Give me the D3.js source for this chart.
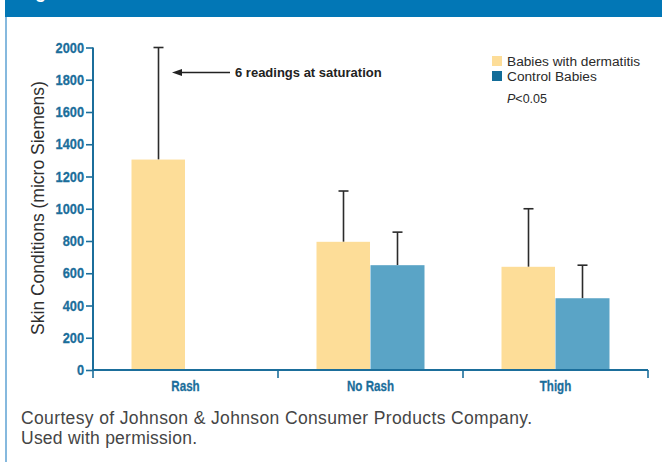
<!DOCTYPE html>
<html>
<head>
<meta charset="utf-8">
<script src="https://cdn.jsdelivr.net/npm/d3@7"></script>
<style>
  html, body { margin: 0; padding: 0; background: #fff; }
  svg { display: block; }
</style>
</head>
<body>
<svg id="chart" width="662" height="462"></svg>
<script>
// Skin conductance by site, babies with dermatitis vs. control babies
const categories = ["Rash", "No Rash", "Thigh"];
const seriesNames = ["Babies with dermatitis", "Control Babies"];
const dermatitisMean = [1305, 795, 640];
const dermatitisErr = [695, 315, 360];
const controlMean = [null, 650, 445];
const controlErr = [null, 205, 205];
const yTicks = [0, 200, 400, 600, 800, 1000, 1200, 1400, 1600, 1800, 2000];

const barFill = ["#fddd98", "#5aa4c6"];
const legendFill = ["#fddd98", "#126c98"];
const axisColor = "#1b6e9b";
const sans = "'Liberation Sans', Arial, Helvetica, sans-serif";

const svg = d3.select("#chart");

// Squeeze a text horizontally to mimic a condensed face
function condense(sel, k) {
  sel.each(function () {
    const w = this.getComputedTextLength();
    d3.select(this).attr("textLength", w * k).attr("lengthAdjust", "spacingAndGlyphs");
  });
}

// Frame: header band and left rule
svg.append("rect").attr("x", 5).attr("y", 0).attr("width", 657).attr("height", 17).attr("fill", "#0277b6");
svg.append("text").attr("x", 19).attr("y", -2).attr("fill", "#fff")
  .attr("font-family", sans).attr("font-weight", "bold").attr("font-size", 18).text("Figure 1");
svg.append("line").attr("x1", 6).attr("x2", 6).attr("y1", 17).attr("y2", 462)
  .attr("stroke", "#86b9de").attr("stroke-width", 2);

// Scales
const x0 = d3.scaleBand().domain(categories).range([93, 648]).padding(0);
const groupWidth = 108;
const x1 = d3.scaleBand().domain(seriesNames).range([0, groupWidth]).padding(0);
const y = d3.scaleLinear().domain([0, 2000]).range([370, 47.5]);

const rows = [];
categories.forEach((c, i) => {
  [[dermatitisMean, dermatitisErr], [controlMean, controlErr]].forEach(([m, e], s) => {
    if (m[i] != null) rows.push({ cat: c, s, mean: m[i], err: e[i] });
  });
});
const barX = d => x0(d.cat) + x0.bandwidth() / 2 - groupWidth / 2 + x1(seriesNames[d.s]);

// Error bars (drawn under the bars so only the upper whisker shows)
const eb = svg.append("g").attr("stroke", "#2b2b2b").attr("stroke-width", 1.6);
rows.forEach(d => {
  const cx = barX(d) + x1.bandwidth() / 2;
  eb.append("line").attr("x1", cx).attr("x2", cx).attr("y1", y(d.mean)).attr("y2", y(d.mean + d.err));
  eb.append("line").attr("x1", cx - 5).attr("x2", cx + 5).attr("y1", y(d.mean + d.err)).attr("y2", y(d.mean + d.err));
});

// Bars
svg.append("g").selectAll("rect").data(rows).join("rect")
  .attr("x", d => barX(d))
  .attr("width", d => x1.bandwidth() - (d.s === 1 ? 0 : 0.5))
  .attr("y", d => y(d.mean))
  .attr("height", d => y(0) - y(d.mean))
  .attr("fill", d => barFill[d.s]);

// Y axis
const yAxis = svg.append("g").attr("transform", "translate(93,0)")
  .call(d3.axisLeft(y).tickValues(yTicks).tickSize(7).tickPadding(2).tickFormat(d3.format("d")));
yAxis.select(".domain").attr("stroke", axisColor).attr("stroke-width", 2).attr("d", `M0,${y(2000)}V${y(0)}`);
yAxis.selectAll(".tick line").attr("stroke", axisColor).attr("stroke-width", 1.6);
yAxis.selectAll(".tick text").attr("fill", axisColor).attr("font-family", sans)
  .attr("font-weight", "bold").attr("font-size", 14.5).attr("stroke", axisColor).attr("stroke-width", 0.3)
  .call(condense, 0.88);

// X axis
const xAxis = svg.append("g").attr("transform", `translate(0,${y(0)})`)
  .call(d3.axisBottom(x0).tickSize(0).tickPadding(11));
xAxis.select(".domain").attr("stroke", axisColor).attr("stroke-width", 2).attr("d", "M92,0H648");
xAxis.selectAll(".tick text").attr("fill", axisColor).attr("font-family", sans)
  .attr("font-weight", "bold").attr("font-size", 14.5).attr("stroke", axisColor).attr("stroke-width", 0.3)
  .call(condense, 0.8);
const boundaries = [93, ...categories.map(c => x0(c) + x0.bandwidth())];
xAxis.selectAll(".bound").data(boundaries).join("line").attr("class", "bound")
  .attr("x1", d => d).attr("x2", d => d).attr("y1", 0).attr("y2", 8)
  .attr("stroke", axisColor).attr("stroke-width", 1.6);

// Y axis title
svg.append("text").attr("transform", "translate(44,208) rotate(-90)")
  .attr("text-anchor", "middle").attr("font-family", sans).attr("font-size", 17.5)
  .attr("fill", "#2f2f2f").text("Skin Conditions (micro Siemens)");

// Annotation arrow
const ann = svg.append("g");
ann.append("line").attr("x1", 230).attr("x2", 180).attr("y1", 72.5).attr("y2", 72.5)
  .attr("stroke", "#222").attr("stroke-width", 1.6);
ann.append("path").attr("d", "M172,72.5L182,69L182,76Z").attr("fill", "#222");
ann.append("text").attr("x", 235).attr("y", 77).attr("font-family", sans)
  .attr("font-weight", "bold").attr("font-size", 13).attr("fill", "#222")
  .text("6 readings at saturation");

// Legend
const legend = svg.append("g");
seriesNames.forEach((name, i) => {
  legend.append("rect").attr("x", 492).attr("y", 56 + i * 15).attr("width", 10).attr("height", 10)
    .attr("fill", legendFill[i]);
  legend.append("text").attr("x", 507).attr("y", 65.5 + i * 15).attr("font-family", sans)
    .attr("font-size", 13.7).attr("fill", "#2a2a2a").text(name);
});
const pTxt = legend.append("text").attr("x", 507).attr("y", 102.5).attr("font-family", sans)
  .attr("font-size", 12.5).attr("fill", "#2a2a2a");
pTxt.append("tspan").attr("font-style", "italic").text("P");
pTxt.append("tspan").text("<0.05");

// Source note
const note = svg.append("g").attr("font-family", sans).attr("font-size", 17.5).attr("fill", "#454545");
note.append("text").attr("x", 21).attr("y", 423.5).attr("textLength", 511).attr("lengthAdjust", "spacing")
  .text("Courtesy of Johnson & Johnson Consumer Products Company.");
note.append("text").attr("x", 21).attr("y", 443.5).attr("textLength", 176).attr("lengthAdjust", "spacing")
  .text("Used with permission.");
</script>
</body>
</html>
